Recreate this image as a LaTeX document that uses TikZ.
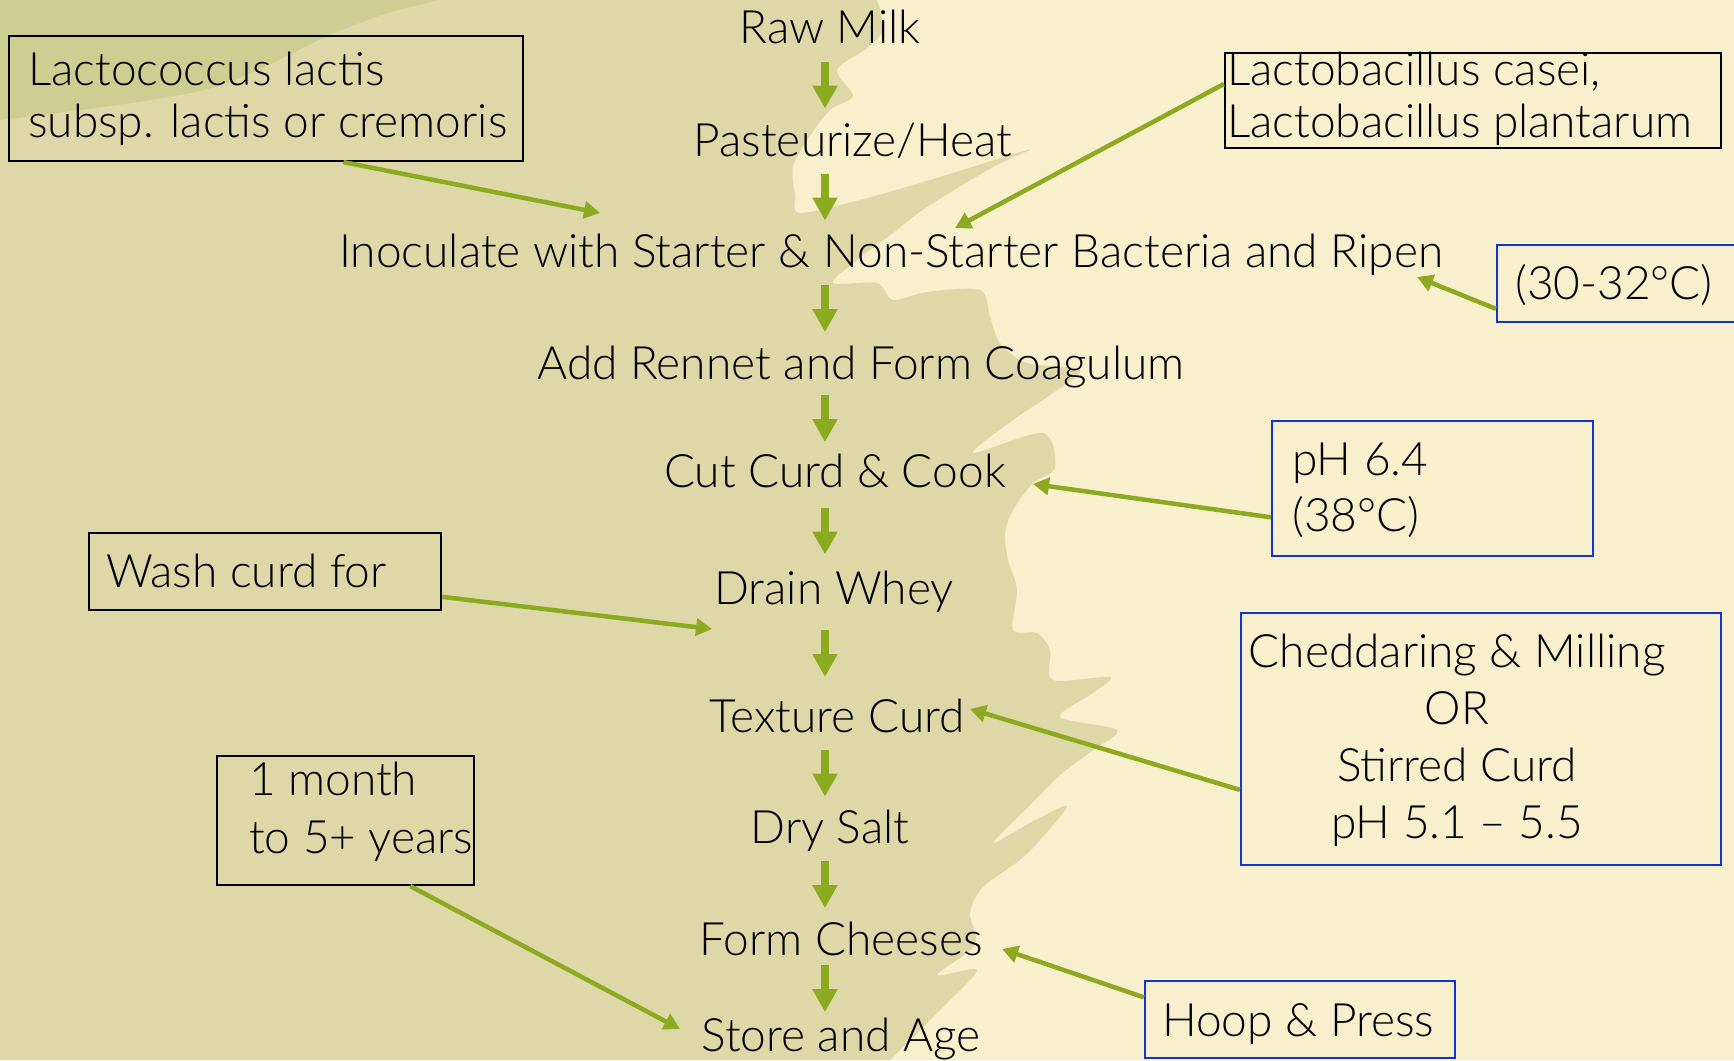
\documentclass[tikz,border=0pt]{standalone}
\usepackage{fontspec}
\setmainfont{Lato Light}
\usetikzlibrary{arrows.meta,calc}

\definecolor{cream}{RGB}{248,239,204}
\definecolor{whey}{RGB}{222,216,168}
\definecolor{rind}{RGB}{205,206,146}
\definecolor{leaf}{RGB}{140,170,31}
\definecolor{boxblue}{RGB}{16,52,212}

\tikzset{
  stage/.style={font=\fontsize{46}{52}\selectfont, inner sep=0pt},
  note/.style={font=\fontsize{46}{52}\selectfont, inner sep=0pt, align=left},
  down/.style={leaf, line width=8pt, -{Triangle[width=24pt,length=23pt]}},
  feed/.style={leaf, line width=4.5pt, -{Triangle[width=17pt,length=16pt]}},
  blackbox/.style={draw=black, line width=2.2pt, inner sep=0pt},
  bluebox/.style={draw=boxblue, line width=2.2pt, inner sep=0pt},
}

\begin{document}
\begin{tikzpicture}[x=1pt,y=-1pt]
        \useasboundingbox (0,0) rectangle (1734,1060);

        % Background
        \fill[cream] (0,0) rectangle (1734,1060);
        \fill[whey] plot[smooth, tension=0.5] coordinates {
            (877,0) (883,30) (867,48) (837,70) (853,96) (830,110) (807,140)
            (793,167) (795,195) (800,213) (860,200) (930,180) (1028,150)
            (993,167) (927,207) (893,233) (857,260) (833,283) (877,283)
            (893,300) (927,292) (980,290) (990,317) (1000,343) (1027,363)
            (1080,370) (1053,393) (1013,420) (973,453) (1043,433) (1055,468)
            (1033,483) (1013,510) (1005,533) (1008,560) (1017,590) (1013,630)
            (1037,633) (1050,650) (1053,680) (1110,677) (1093,693) (1060,717)
            (1117,730) (1093,750) (1060,775) (1030,805) (993,843) (1030,823)
            (1067,806) (1040,840) (1020,860) (983,887) (970,913) (975,945)
            (937,975) (977,970) (943,1007) (915,1035) (890,1060)}
            -- (0,1060) -- (0,0) -- cycle;
        \fill[rind] (0,0) -- plot[smooth] coordinates {(439,0) (388,13) (330,35) (204,90) (0,120)} -- cycle;

        % Process steps
        \node[stage, anchor=base] (raw) at (830,43) {Raw Milk};
        \node[stage, anchor=base] (past) at (853,156) {Pasteurize/Heat};
        \node[stage, anchor=base] (inoc) at (891,267) {Inoculate with Starter \& Non-Starter Bacteria and Ripen};
        \node[stage, anchor=base] (rennet) at (861,379) {Add Rennet and Form Coagulum};
        \node[stage, anchor=base] (cut) at (835,487) {Cut Curd \& Cook};
        \node[stage, anchor=base] (drain) at (834,604) {Drain Whey};
        \node[stage, anchor=base] (texture) at (837,732) {Texture Curd};
        \node[stage, anchor=base] (salt) at (830,843) {Dry Salt};
        \node[stage, anchor=base] (form) at (841,955) {Form Cheeses};
        \node[stage, anchor=base] (store) at (841,1051) {Store and Age};

        % Flow arrows
        \coordinate (spine) at (825,0);
        \foreach \a/\b in {raw/past, past/inoc, inoc/rennet, rennet/cut, cut/drain,
                           drain/texture, texture/salt, salt/form, form/store}
            \draw[down] ($(\a.base -| spine)!0.5!(\b.base -| spine) + (0,-38)$)
                     -- ($(\a.base -| spine)!0.5!(\b.base -| spine) + (0,9)$);

        % Notes
        \node[blackbox, minimum width=514pt, minimum height=125pt] (lactoc) at (266,98.5) {};
        \node[note, anchor=west] (lactoc text) at (28,98.5) {Lactococcus lactis\\subsp. lactis or cremoris};

        \node[blackbox, minimum width=496pt, minimum height=95pt] (lactob) at (1473,100.5) {};
        \node[note, anchor=west] (lactob text) at (1227,98.5) {Lactobacillus casei,\\Lactobacillus plantarum};

        \node[bluebox, minimum width=270pt, minimum height=77pt] (temp) at (1632,283.5) {};
        \node[note, anchor=base west] (temp text) at (1515,299) {(30-32°C)};

        \node[bluebox, minimum width=321pt, minimum height=135pt] (ph) at (1432.5,488.5) {};
        \node[note, anchor=west, font=\fontsize{46}{56}\selectfont] (ph text) at (1292,490.5) {pH 6.4\\(38°C)};

        \node[blackbox, minimum width=352pt, minimum height=77pt] (wash) at (265,571.5) {};
        \node[note, anchor=base west] (wash text) at (106,587) {Wash curd for};

        \node[bluebox, minimum width=480pt, minimum height=252pt] (ched) at (1481,739) {};
        \node[note, align=center, font=\fontsize{46}{57}\selectfont] (ched text) at (1457,740.5) {Cheddaring \& Milling\\OR\\Stirred Curd\\pH 5.1 – 5.5};

        \node[blackbox, minimum width=257pt, minimum height=129pt] (month) at (345.5,820.5) {};
        \node[note, anchor=west, font=\fontsize{46}{58}\selectfont] (month text) at (249,811.5) {1 month\\to 5+ years};

        \node[bluebox, minimum width=310pt, minimum height=77pt] (hoop) at (1300,1019.5) {};
        \node[note, anchor=base west] (hoop text) at (1162,1036) {Hoop \& Press};

        % Note arrows
        \coordinate (lactoc tip) at (600,213);
        \coordinate (lactob tip) at (955,228);
        \coordinate (temp tip) at (1417,277);
        \coordinate (ph tip) at (1033,484);
        \coordinate (wash tip) at (712,629);
        \coordinate (ched tip) at (970,709);
        \coordinate (month tip) at (680,1029);
        \coordinate (hoop tip) at (1002,949);
        \draw[feed] ($(lactoc.south west)!0.65!(lactoc.south east)$) -- (lactoc tip);
        \draw[feed] ($(lactob.north west)!0.33!(lactob.south west)$) -- (lactob tip);
        \draw[feed] ($(temp.north west)!0.82!(temp.south west)$) -- (temp tip);
        \draw[feed] ($(ph.north west)!0.71!(ph.south west)$) -- (ph tip);
        \draw[feed] ($(wash.north east)!0.82!(wash.south east)$) -- (wash tip);
        \draw[feed] ($(ched.north west)!0.70!(ched.south west)$) -- (ched tip);
        \draw[feed] ($(month.south west)!0.75!(month.south east)$) -- (month tip);
        \draw[feed] ($(hoop.north west)!0.22!(hoop.south west)$) -- (hoop tip);
    \end{tikzpicture}
\end{document}
